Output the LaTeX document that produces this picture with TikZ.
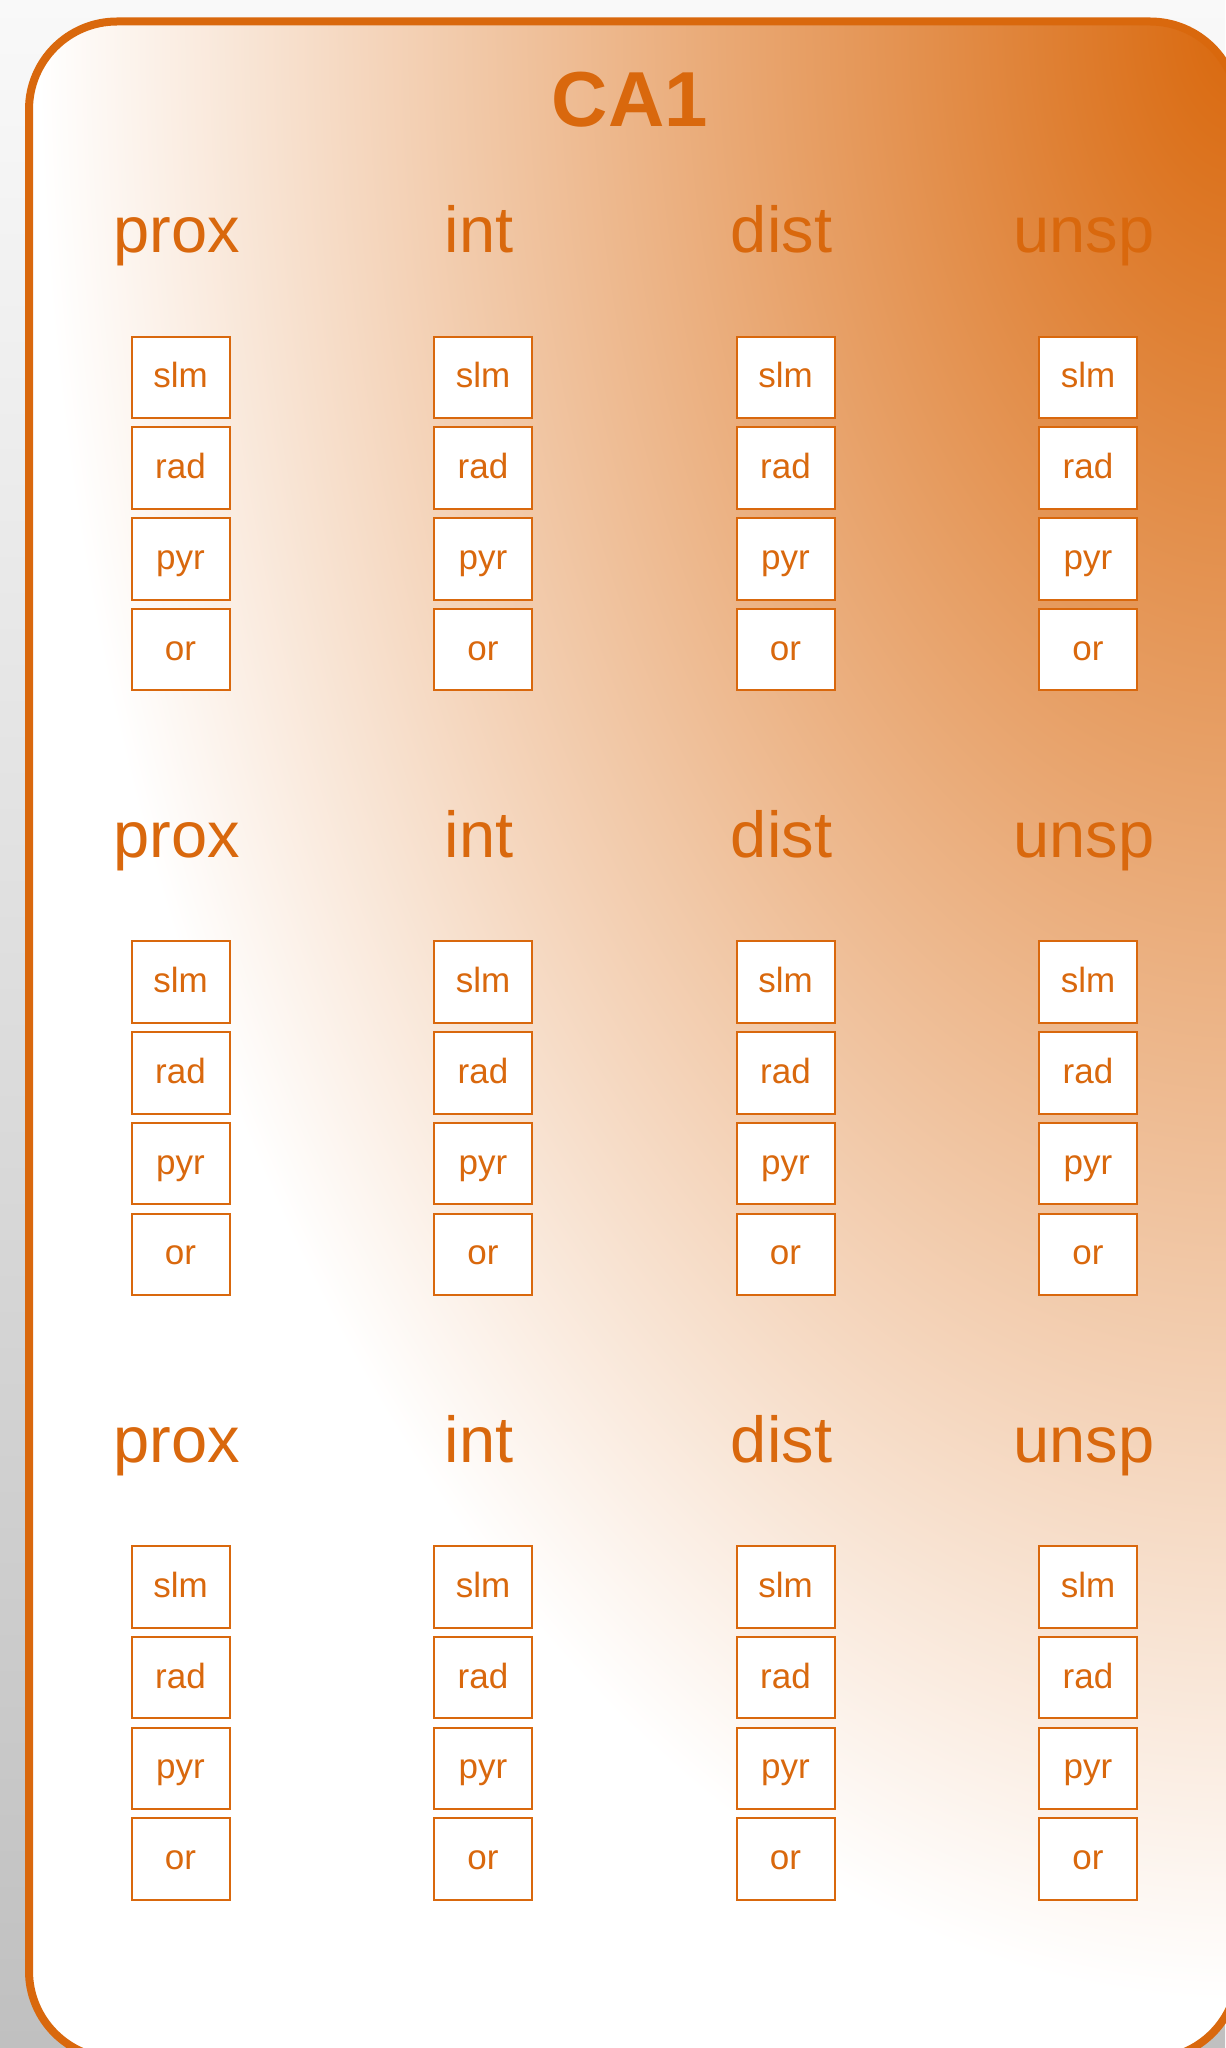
\documentclass[tikz,border=0pt]{standalone}
\usepackage{fontspec}
\setmainfont{Liberation Sans}

\definecolor{caorange}{RGB}{217,104,13}
\definecolor{bgtop}{RGB}{249,249,249}
\definecolor{bgbottom}{RGB}{192,192,192}

% orange glow from the upper right corner fading to white
% (the central 50bp square is fitted to the shaded path)
\pgfdeclareradialshading{cornerglow}{\pgfpoint{0bp}{0bp}}{%
  color(0bp)=(caorange); color(25bp)=(white); color(50bp)=(white)}

\tikzset{
  panel/.style={rounded corners=44pt},
  header/.style={anchor=base, text=caorange, inner sep=0pt,
    font=\fontsize{32.5}{36}\selectfont},
  cellbox/.style={draw=caorange, line width=1pt, fill=white, text=caorange,
    minimum width=49pt, minimum height=40.8pt, inner sep=0pt,
    text height=10.5pt, text depth=0pt,
    font=\fontsize{17.5}{20}\selectfont},
  titletext/.style={anchor=base, text=caorange, inner sep=0pt,
    font=\bfseries\fontsize{39}{44}\selectfont}
}

\begin{document}
\begin{tikzpicture}[x=0.5pt,y=-0.5pt]
\useasboundingbox (0,0) rectangle (1225,2048);

% page background
\shade[top color=bgtop, bottom color=bgbottom] (0,0) rectangle (1225,2048);

% panel fill
\begin{scope}
  \clip[panel] (29,21.5) rectangle (1238,2059);
  \fill[white] (29,21.5) rectangle (1238,2059);
  \shade[shading=cornerglow] (38,-1958.5) rectangle (2438,2001.5);
\end{scope}
\draw[panel, caorange, line width=4pt] (29,21.5) rectangle (1238,2059);

% title
\node[titletext] (title) at (630,127) {CA1};

% three groups of four columns
\foreach \k in {0,1,2} {
  \foreach \lab/\cx [count=\ci] in {prox/180.5,int/483,dist/785.5,unsp/1088} {
    \node[header] (h-\k-\ci) at ({\cx-4},{253+604.7*\k}) {\lab};
    \foreach \cell [count=\j] in {slm,rad,pyr,or} {
      \node[cellbox] (b-\k-\ci-\j) at (\cx,{377.4+604.7*\k+90.75*(\j-1)}) {\cell};
    }
  }
}
\end{tikzpicture}
\end{document}
